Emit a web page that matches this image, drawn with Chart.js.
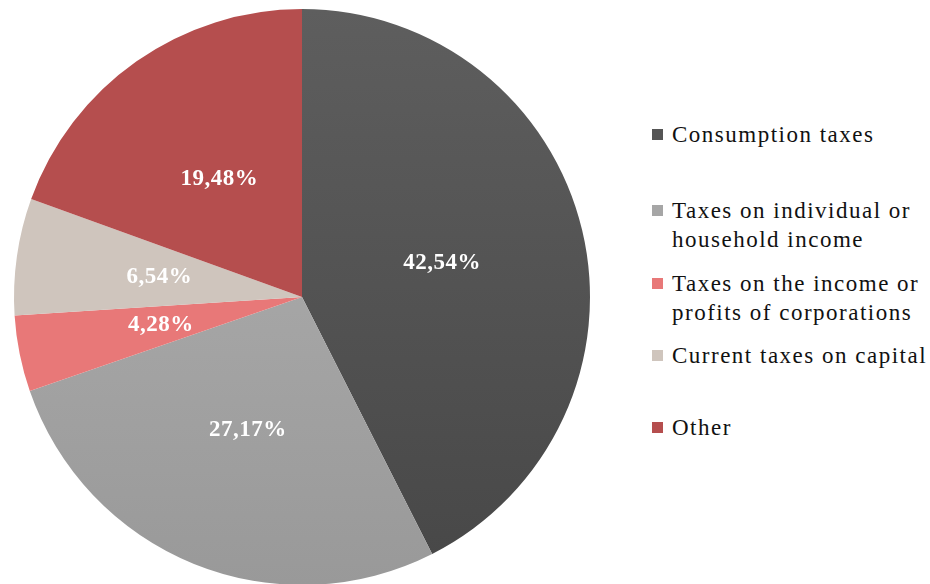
<!DOCTYPE html>
<html>
<head>
<meta charset="utf-8">
<script src="https://cdn.jsdelivr.net/npm/chart.js@4"></script>
<style>
  html, body { margin: 0; padding: 0; background: #fff; overflow: hidden; }
  #wrap { position: relative; width: 930px; height: 584px; }
  #box { position: absolute; left: 0; top: 0; width: 604px; height: 585px; }
  #legend { position: absolute; left: 652px; top: 0; margin: 0; padding: 0; list-style: none;
    font-family: "Liberation Serif", "Times New Roman", serif; font-size: 23px; color: #111;
    letter-spacing: 1.5px; }
  #legend li { position: absolute; left: 0; white-space: nowrap; line-height: 29px; }
  #legend .mark { position: absolute; left: 0; width: 11px; height: 11px; top: 9px; }
  #legend .txt { position: absolute; left: 20px; top: 0; }
</style>
</head>
<body>
<div id="wrap">
  <div id="box"><canvas id="pieChart"></canvas></div>
  <ul id="legend"></ul>
</div>
<script>
'use strict';

// data
let categories = ['Consumption taxes', 'Taxes on individual or household income',
  'Taxes on the income or profits of corporations', 'Current taxes on capital', 'Other'];
let shares = [42.54, 27.17, 4.28, 6.54, 19.48];
let sliceColors = ['#555555', '#a6a6a6', '#e87878', '#cfc5bd', '#b54e4e'];
// the two grey slices are shaded top to bottom
let shadeTop = ['#5e5e5e', '#b2b2b2', null, null, null];
let shadeBottom = ['#474747', '#999999', null, null, null];

// legend lines (how the text wraps) and where each item sits
let legendLines = [['Consumption taxes'], ['Taxes on individual or', 'household income'],
  ['Taxes on the income or', 'profits of corporations'], ['Current taxes on capital'], ['Other']];
let legendTops = [120, 196, 269, 341, 413];

// html legend
let legend = document.getElementById('legend');
for (let i = 0; i < categories.length; i++) {
  let li = document.createElement('li');
  li.style.top = legendTops[i] + 'px';
  let mark = document.createElement('span');
  mark.className = 'mark';
  mark.style.background = sliceColors[i];
  let txt = document.createElement('span');
  txt.className = 'txt';
  txt.innerHTML = legendLines[i].join('<br>');
  li.appendChild(mark);
  li.appendChild(txt);
  legend.appendChild(li);
}

function sliceFill(context) {
  let i = context.dataIndex;
  let area = context.chart.chartArea;
  if (!area || !shadeTop[i]) {
    return sliceColors[i];
  }
  let g = context.chart.ctx.createLinearGradient(0, area.top, 0, area.bottom);
  g.addColorStop(0, shadeTop[i]);
  g.addColorStop(1, shadeBottom[i]);
  return g;
}

// draws the percentages inside the slices
let sliceLabels = {
  id: 'sliceLabels',
  afterDatasetsDraw(chart) {
    let ctx = chart.ctx;
    let meta = chart.getDatasetMeta(0);
    ctx.save();
    ctx.fillStyle = '#ffffff';
    ctx.font = 'bold 23px "Liberation Serif", "Times New Roman", serif';
    ctx.letterSpacing = '0.5px';
    ctx.textAlign = 'center';
    ctx.textBaseline = 'middle';
    meta.data.forEach(function (arc, i) {
      let p = arc.tooltipPosition();
      let label = shares[i].toFixed(2).replace('.', ',') + '%';
      ctx.fillText(label, p.x, p.y);
    });
    ctx.restore();
  }
};

let ctx = document.getElementById('pieChart').getContext('2d');
new Chart(ctx, {
  type: 'pie',
  data: {
    labels: categories,
    datasets: [{
      data: shares,
      backgroundColor: sliceFill,
      borderWidth: 0
    }]
  },
  options: {
    responsive: true,
    maintainAspectRatio: false,
    animation: false,
    layout: { padding: { left: 14, top: 9, right: 14, bottom: 0 } },
    plugins: {
      legend: { display: false },
      tooltip: { enabled: false }
    }
  },
  plugins: [sliceLabels]
});
</script>
</body>
</html>
